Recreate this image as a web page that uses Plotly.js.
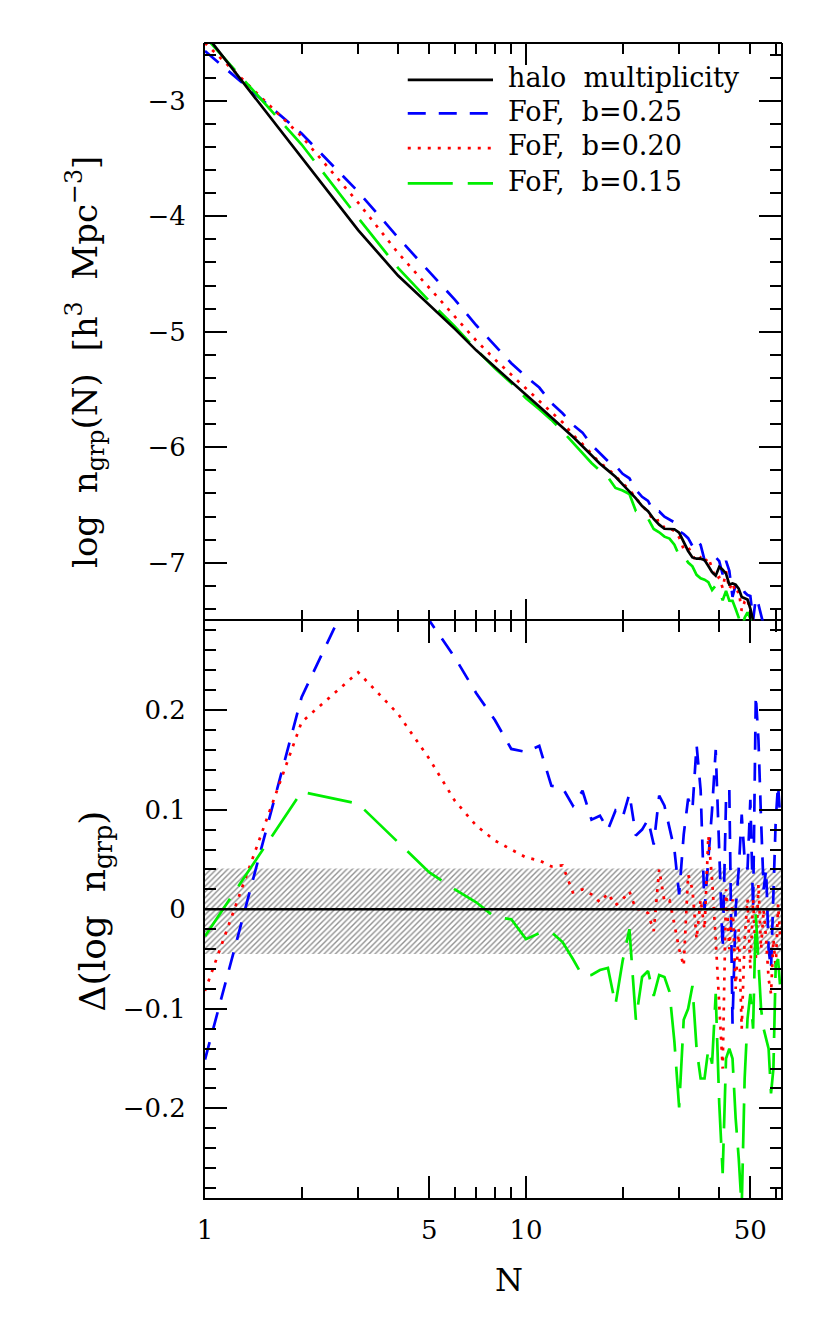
<!DOCTYPE html>
<html>
<head>
<meta charset="utf-8">
<script src="https://cdn.plot.ly/plotly-3.0.1.min.js"></script>
<style>html,body{margin:0;padding:0;background:#fff;}#chart{width:830px;height:1331px;}</style>
</head>
<body>
<div id="chart"></div>
<script>
// ---- data ----
const seriesNames = ['halo multiplicity', 'FoF, b=0.25', 'FoF, b=0.20', 'FoF, b=0.15'];

// group multiplicity N = 1..62
const N = [1,2,3,4,5,6,7,8,9,10,11,12,13,14,15,16,17,18,19,20,21,22,23,24,25,26,27,28,29,30,
           31,32,33,34,35,36,37,38,39,40,41,42,43,44,45,46,47,48,49,50,51,52,53,54,55,56,57,58,59,60,61,62];

// log n_grp(N) for the halo multiplicity function
const haloLogN = [-2.418,-3.497,-4.120,-4.516,-4.772,-4.975,-5.161,-5.308,-5.434,-5.546,
                  -5.647,-5.740,-5.828,-5.909,-5.992,-6.070,-6.143,-6.200,-6.256,-6.322,
                  -6.385,-6.442,-6.509,-6.554,-6.621,-6.670,-6.706,-6.708,-6.710,-6.740,
                  -6.826,-6.898,-6.954,-6.965,-6.965,-6.977,-7.028,-7.081,-7.112,-7.036,
                  -7.060,-7.094,-7.189,-7.180,-7.190,-7.224,-7.297,-7.306,-7.319,-7.398,
                  -7.498,-7.520,-7.530,-7.550,-7.560,-7.570,-7.580,-7.590,-7.600,-7.620,-7.630,-7.650];

// Delta(log n_grp) = FoF - halo
const dB025 = [-0.151,0.213,0.333,0.330,0.290,0.253,0.217,0.190,0.161,0.158,
               0.164,0.124,0.122,0.104,0.119,0.090,0.094,0.080,0.099,0.092,
               0.116,0.074,0.080,0.090,0.065,0.114,0.104,0.082,0.060,0.015,
               0.075,0.111,0.100,0.165,0.120,0.000,0.050,0.100,0.160,0.050,
               -0.040,0.110,0.120,-0.115,0.000,0.040,0.095,0.050,0.040,0.110,
               0.000,0.215,0.170,0.090,0.020,0.040,-0.040,-0.060,0.020,0.090,0.125,0.090];
const dB020 = [-0.082,0.188,0.238,0.196,0.151,0.109,0.084,0.069,0.060,0.052,
               0.049,0.043,0.044,0.017,0.020,0.015,0.007,0.016,0.004,0.010,
               0.018,0.000,0.000,-0.004,-0.022,0.040,0.008,0.009,-0.015,-0.040,
               -0.057,0.035,0.020,-0.030,0.010,-0.020,0.074,0.030,-0.030,-0.090,
               -0.160,0.020,-0.040,0.010,-0.080,-0.020,-0.120,-0.030,0.010,-0.060,
               0.010,-0.050,0.025,-0.040,0.000,-0.030,-0.070,-0.085,-0.030,-0.060,0.005,-0.030];
const dB015 = [-0.027,0.118,0.106,0.067,0.037,0.020,0.007,-0.008,-0.010,-0.030,
               -0.024,-0.023,-0.033,-0.050,-0.067,-0.066,-0.061,-0.059,-0.096,-0.052,
               -0.020,-0.111,-0.068,-0.062,-0.087,-0.066,-0.068,-0.083,-0.133,-0.199,
               -0.111,-0.100,-0.077,-0.140,-0.170,-0.170,-0.140,-0.155,-0.085,-0.195,
               -0.265,-0.150,-0.140,-0.150,-0.210,-0.250,-0.300,-0.170,-0.110,-0.085,
               -0.120,-0.005,-0.060,-0.100,-0.120,-0.130,-0.140,-0.185,-0.160,-0.055,-0.050,-0.080];

// shaded uncertainty band in the lower panel
const bandN = [0.9, 80];
const bandUpper = 0.041;
const bandLower = -0.045;

// tick labels
const xTickVals = [1, 5, 10, 50];
const xTickText = ['1', '5', '10', '50'];
const yTopTicks = [-7, -6, -5, -4, -3];
const yBotTicks = [-0.2, -0.1, 0, 0.1, 0.2];

// ---- styling ----
const FONT = 'DejaVu Serif';
const colors = ['#000000', '#0000ff', '#ff0000', '#00ee00'];
const dashes = ['solid', '18px,13px', '3px,7px', '45px,15px'];
const LW = 2.7;

const fofDeltas = [dB025, dB020, dB015];
const fofTop = fofDeltas.map(d => haloLogN.map((h, i) => h + d[i]));

const traces = [];
// band
traces.push({
  x: [bandN[0], bandN[1], bandN[1], bandN[0], bandN[0]],
  y: [bandUpper, bandUpper, bandLower, bandLower, bandUpper],
  xaxis: 'x', yaxis: 'y2', mode: 'lines', fill: 'toself',
  fillcolor: 'rgba(255,255,255,0)',
  fillpattern: {shape: '/', size: 4, solidity: 0.35, fgcolor: '#909090', bgcolor: 'rgba(255,255,255,0)'},
  line: {width: 0}, hoverinfo: 'skip', showlegend: false
});
// lower panel deltas
fofDeltas.forEach((d, k) => {
  traces.push({x: N, y: d, xaxis: 'x', yaxis: 'y2', mode: 'lines', name: seriesNames[k+1],
    line: {color: colors[k+1], width: LW, dash: dashes[k+1]}, showlegend: false});
});
// upper panel
fofTop.forEach((d, k) => {
  traces.push({x: N, y: d, xaxis: 'x2', yaxis: 'y', mode: 'lines', name: seriesNames[k+1],
    line: {color: colors[k+1], width: LW, dash: dashes[k+1]}, showlegend: false});
});
traces.push({x: N, y: haloLogN, xaxis: 'x2', yaxis: 'y', mode: 'lines', name: seriesNames[0],
  line: {color: colors[0], width: LW}, showlegend: false});

const tickFont = {family: FONT, size: 26, color: '#000'};
const axCommon = {
  showline: true, linewidth: 2, linecolor: '#000', mirror: 'ticks',
  ticks: 'inside', ticklen: 22, tickwidth: 2, tickcolor: '#000',
  showgrid: false, zeroline: false, tickfont: tickFont
};
const xr = [0, 1.7945];
const minorX = [2,3,4,6,7,8,9,20,30,40,60];

const layout = {
  width: 830, height: 1331,
  margin: {l: 205, r: 49, t: 43, b: 133},
  paper_bgcolor: '#fff', plot_bgcolor: '#fff',
  showlegend: false,
  xaxis: Object.assign({}, axCommon, {
    type: 'log', range: xr, anchor: 'y2', domain: [0, 1],
    tickmode: 'array', tickvals: xTickVals, ticktext: xTickText, ticklabelstandoff: 8,
    minor: {tickmode: 'array', tickvals: minorX, ticks: 'inside', ticklen: 11, tickwidth: 2, tickcolor: '#000', showgrid: false}
  }),
  xaxis2: Object.assign({}, axCommon, {
    type: 'log', range: xr, anchor: 'y', domain: [0, 1], matches: 'x', showline: false,
    tickmode: 'array', tickvals: [1, 10], showticklabels: false,
    minor: {tickmode: 'array', tickvals: [2,3,4,5,6,7,8,9,20,30,40,50,60], ticks: 'inside', ticklen: 11, tickwidth: 2, tickcolor: '#000', showgrid: false}
  }),
  yaxis: Object.assign({}, axCommon, {
    range: [-7.5, -2.5], domain: [0.5, 1], anchor: 'x2',
    tickmode: 'array', tickvals: yTopTicks, ticklabelstandoff: 12,
    minor: {dtick: 0.2, tick0: 0, ticks: 'inside', ticklen: 11, tickwidth: 2, tickcolor: '#000', showgrid: false}
  }),
  yaxis2: Object.assign({}, axCommon, {
    range: [-0.29, 0.29], domain: [0, 0.5], anchor: 'x',
    tickmode: 'array', tickvals: yBotTicks, ticklabelstandoff: 12,
    minor: {dtick: 0.02, tick0: 0, ticks: 'inside', ticklen: 11, tickwidth: 2, tickcolor: '#000', showgrid: false}
  }),
  shapes: [
    // zero reference line of the lower panel (halo multiplicity itself)
    {type: 'line', xref: 'paper', yref: 'y2', x0: 0, x1: 1, y0: 0, y1: 0, layer: 'above',
     line: {color: colors[0], width: LW}},
    // top frame edge of the upper panel
    {type: 'line', xref: 'paper', yref: 'paper', x0: -0.0017, x1: 1.0017, y0: 1, y1: 1, layer: 'above',
     line: {color: '#000', width: 2}}
  ],
  annotations: [
    {xref: 'paper', yref: 'paper', x: -0.208, y: 0.724, showarrow: false, textangle: -90,
     xanchor: 'center', yanchor: 'middle',
     text: 'log\u00a0\u00a0n<sub>grp</sub>(N)\u00a0\u00a0[h<sup>3</sup>\u00a0\u00a0Mpc<sup>\u22123</sup>]',
     font: {family: FONT, size: 34, color: '#000'}},
    {xref: 'paper', yref: 'paper', x: -0.191, y: 0.249, showarrow: false, textangle: -90,
     xanchor: 'center', yanchor: 'middle',
     text: '\u0394(log\u00a0\u00a0n<sub>grp</sub>)',
     font: {family: FONT, size: 36, color: '#000'}},
    {xref: 'paper', yref: 'paper', x: 0.528, y: -0.071, showarrow: false,
     xanchor: 'center', yanchor: 'middle', text: 'N',
     font: {family: FONT, size: 32, color: '#000'}}
  ]
};

// legend drawn with shapes + text
const legY = [0.968, 0.939, 0.909, 0.8785];
for (let k = 0; k < 4; k++) {
  layout.shapes.push({type: 'line', xref: 'paper', yref: 'paper', x0: 0.352, x1: 0.500, y0: legY[k], y1: legY[k],
    line: {color: colors[k], width: LW, dash: dashes[k]}});
  layout.annotations.push({xref: 'paper', yref: 'paper', x: 0.522, y: legY[k] + 0.002, showarrow: false,
    xanchor: 'left', yanchor: 'middle', text: seriesNames[k].replace(' ', '\u00a0\u00a0'),
    font: {family: FONT, size: 27, color: '#000'}});
}

Plotly.newPlot('chart', traces, layout, {staticPlot: true, displayModeBar: false});
</script>
</body>
</html>
